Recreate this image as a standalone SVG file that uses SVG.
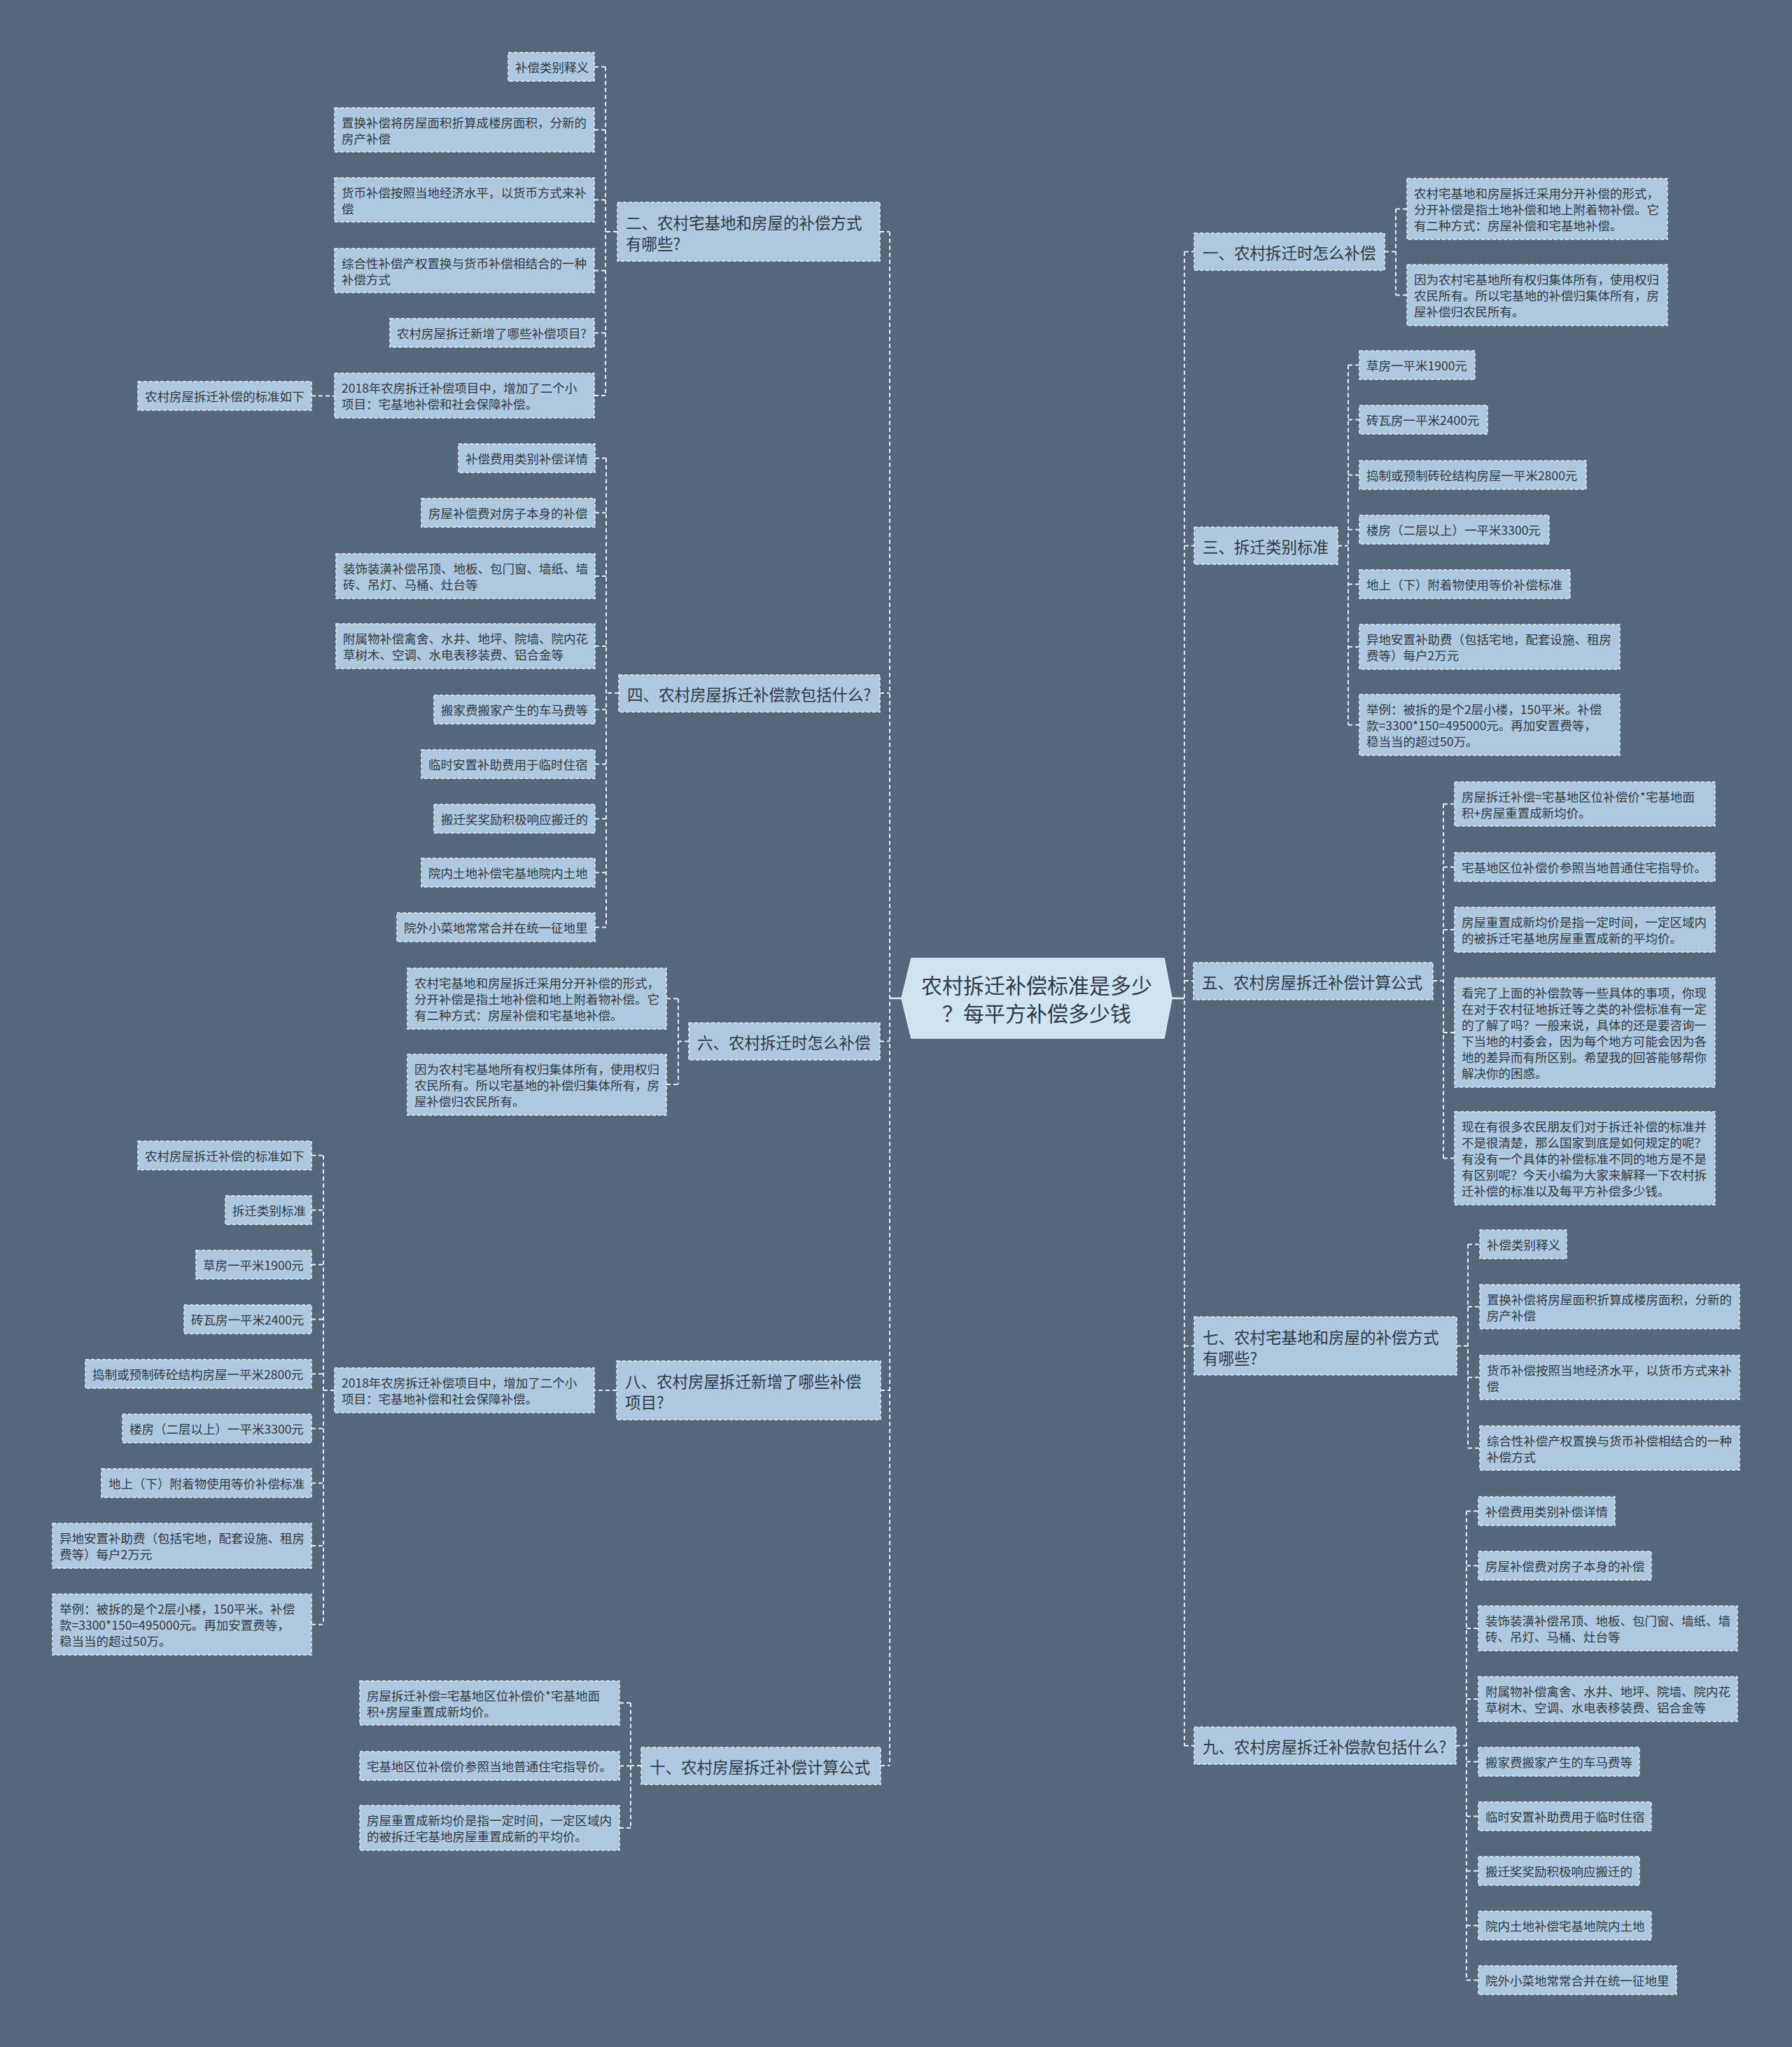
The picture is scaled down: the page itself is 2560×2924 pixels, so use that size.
<svg xmlns="http://www.w3.org/2000/svg" width="2560" height="2924" viewBox="0 0 2560 2924">
<style>
.bg{fill:#53687a}
.box{fill:#adc9df;stroke:#e4edf3;stroke-width:1.5;stroke-dasharray:5 3}
.t{font-family:"Noto Sans CJK SC","Noto Sans",sans-serif;font-size:17.5px;fill:#2e3a44;dominant-baseline:central}
.bt{font-family:"Noto Sans CJK SC","Noto Sans",sans-serif;font-size:22.5px;fill:#2e3a44;dominant-baseline:central}
.ct{font-family:"Noto Sans CJK SC","Noto Sans",sans-serif;font-size:30px;fill:#2e3a44;dominant-baseline:central;text-anchor:middle}
.c{fill:none;stroke:#e4edf3;stroke-width:2;stroke-dasharray:6 4}
.s{fill:none;stroke:#e4edf3;stroke-width:2.5}
</style>
<rect class="bg" x="0" y="0" width="2560" height="2924"/>
<g id="connectors">
<path class="c" d="M1271,331 V2522"/>
<path class="c" d="M1692,359.5 V2493.5"/>
<path class="s" d="M1271,1426 H1290 M1674,1426 H1692"/>
<path class="c" d="M1257,331 H1271 M882,331 H865 M865,95.5 V565 M849,95.5 H865 M849,185.5 H865 M849,285.5 H865 M849,386.5 H865 M849,475.5 H865 M849,565 H865 M445,565.5 H478"/>
<path class="c" d="M1257,990 H1271 M884,990 H866 M866,654.5 V1324.5 M850,654.5 H866 M850,732.5 H866 M850,823 H866 M850,923 H866 M850,1013.5 H866 M850,1091.5 H866 M850,1169.5 H866 M850,1246.5 H866 M850,1324.5 H866"/>
<path class="c" d="M1257,1487.5 H1271 M984,1487.5 H969 M969,1426.5 V1549 M952,1426.5 H969 M952,1549 H969"/>
<path class="c" d="M1258,1986 H1271 M881,1986 H849 M478,1986 H462 M462,1650.5 V2320.5 M445,1650.5 H462 M445,1728.5 H462 M445,1806.5 H462 M445,1884.5 H462 M445,1962.5 H462 M445,2040.5 H462 M445,2118.5 H462 M445,2208 H462 M445,2320.5 H462"/>
<path class="c" d="M1258,2522 H1271 M916,2522 H901 M901,2432.5 V2611 M885,2432.5 H901 M885,2522.5 H901 M885,2611 H901"/>
<path class="c" d="M1692,359.5 H1706 M1978,359.5 H1994 M1994,298.5 V421.5 M1994,298.5 H2010 M1994,421.5 H2010"/>
<path class="c" d="M1692,779.5 H1706 M1911,779.5 H1926 M1926,521.5 V1035.5 M1926,521.5 H1942 M1926,599.5 H1942 M1926,678.5 H1942 M1926,756.5 H1942 M1926,834.5 H1942 M1926,924 H1942 M1926,1035.5 H1942"/>
<path class="c" d="M1692,1401 H1705 M2047,1401 H2062 M2062,1148.5 V1654.5 M2062,1148.5 H2078 M2062,1238.5 H2078 M2062,1328 H2078 M2062,1475 H2078 M2062,1654.5 H2078"/>
<path class="c" d="M1692,1922.5 H1706 M2081,1922.5 H2097 M2097,1777.5 V2068.5 M2097,1777.5 H2114 M2097,1866.5 H2114 M2097,1967.5 H2114 M2097,2068.5 H2114"/>
<path class="c" d="M1692,2493.5 H1706 M2080,2493.5 H2095 M2095,2158.5 V2828.5 M2095,2158.5 H2112 M2095,2236.5 H2112 M2095,2326 H2112 M2095,2427 H2112 M2095,2516.5 H2112 M2095,2594.5 H2112 M2095,2672.5 H2112 M2095,2750.5 H2112 M2095,2828.5 H2112"/>
</g>

<g id="center">
<polygon points="1288,1426 1302,1369 1663,1369 1674,1426 1663,1483 1302,1483" fill="#cfe4f1" stroke="#e4edf3" stroke-width="1.5"/>
<text class="ct" x="1481" y="1406">农村拆迁补偿标准是多少</text>
<text class="ct" x="1481" y="1446">？每平方补偿多少钱</text>
</g>

<g id="b2"><rect class="box" x="882" y="289" width="375" height="84"/><text class="bt" x="894" y="317">二、农村宅基地和房屋的补偿方式</text><text class="bt" x="894" y="347">有哪些?</text></g>
<g id="b2-1"><rect class="box" x="726" y="75" width="123" height="41"/><text class="t" x="736" y="95.5">补偿类别释义</text></g>
<g id="b2-2"><rect class="box" x="478" y="154" width="371" height="63"/><text class="t" x="488" y="174.5">置换补偿将房屋面积折算成楼房面积，分新的</text><text class="t" x="488" y="197.5">房产补偿</text></g>
<g id="b2-3"><rect class="box" x="478" y="254" width="371" height="63"/><text class="t" x="488" y="274.5">货币补偿按照当地经济水平，以货币方式来补</text><text class="t" x="488" y="297.5">偿</text></g>
<g id="b2-4"><rect class="box" x="478" y="355" width="371" height="63"/><text class="t" x="488" y="375.5">综合性补偿产权置换与货币补偿相结合的一种</text><text class="t" x="488" y="398.5">补偿方式</text></g>
<g id="b2-5"><rect class="box" x="557" y="455" width="292" height="41"/><text class="t" x="567" y="475.5">农村房屋拆迁新增了哪些补偿项目?</text></g>
<g id="b2-6"><rect class="box" x="478" y="533" width="371" height="64"/><text class="t" x="488" y="553.5">2018年农房拆迁补偿项目中，增加了二个小</text><text class="t" x="488" y="576.5">项目：宅基地补偿和社会保障补偿。</text></g>
<g id="b2-6-1"><rect class="box" x="197" y="545" width="248" height="41"/><text class="t" x="207" y="565.5">农村房屋拆迁补偿的标准如下</text></g>

<g id="b4"><rect class="box" x="884" y="964" width="373" height="53"/><text class="bt" x="896" y="990.5">四、农村房屋拆迁补偿款包括什么?</text></g>
<g id="b4-1"><rect class="box" x="655" y="634" width="195" height="41"/><text class="t" x="665" y="654.5">补偿费用类别补偿详情</text></g>
<g id="b4-2"><rect class="box" x="602" y="712" width="248" height="41"/><text class="t" x="612" y="732.5">房屋补偿费对房子本身的补偿</text></g>
<g id="b4-3"><rect class="box" x="480" y="791" width="370" height="64"/><text class="t" x="490" y="811.5">装饰装潢补偿吊顶、地板、包门窗、墙纸、墙</text><text class="t" x="490" y="834.5">砖、吊灯、马桶、灶台等</text></g>
<g id="b4-4"><rect class="box" x="480" y="891" width="370" height="64"/><text class="t" x="490" y="911.5">附属物补偿禽舍、水井、地坪、院墙、院内花</text><text class="t" x="490" y="934.5">草树木、空调、水电表移装费、铝合金等</text></g>
<g id="b4-5"><rect class="box" x="620" y="993" width="230" height="41"/><text class="t" x="630" y="1013.5">搬家费搬家产生的车马费等</text></g>
<g id="b4-6"><rect class="box" x="602" y="1071" width="248" height="41"/><text class="t" x="612" y="1091.5">临时安置补助费用于临时住宿</text></g>
<g id="b4-7"><rect class="box" x="620" y="1149" width="230" height="41"/><text class="t" x="630" y="1169.5">搬迁奖奖励积极响应搬迁的</text></g>
<g id="b4-8"><rect class="box" x="602" y="1226" width="248" height="41"/><text class="t" x="612" y="1246.5">院内土地补偿宅基地院内土地</text></g>
<g id="b4-9"><rect class="box" x="567" y="1304" width="283" height="41"/><text class="t" x="577" y="1324.5">院外小菜地常常合并在统一征地里</text></g>

<g id="b6"><rect class="box" x="984" y="1461" width="273" height="53"/><text class="bt" x="996" y="1487.5">六、农村拆迁时怎么补偿</text></g>
<g id="b6-1"><rect class="box" x="582" y="1383" width="370" height="87"/><text class="t" x="592" y="1403.5">农村宅基地和房屋拆迁采用分开补偿的形式，</text><text class="t" x="592" y="1426.5">分开补偿是指土地补偿和地上附着物补偿。它</text><text class="t" x="592" y="1449.5">有二种方式：房屋补偿和宅基地补偿。</text></g>
<g id="b6-2"><rect class="box" x="582" y="1506" width="370" height="87"/><text class="t" x="592" y="1526.5">因为农村宅基地所有权归集体所有，使用权归</text><text class="t" x="592" y="1549.5">农民所有。所以宅基地的补偿归集体所有，房</text><text class="t" x="592" y="1572.5">屋补偿归农民所有。</text></g>

<g id="b8"><rect class="box" x="881" y="1944" width="377" height="84"/><text class="bt" x="893" y="1972">八、农村房屋拆迁新增了哪些补偿</text><text class="bt" x="893" y="2002">项目?</text></g>
<g id="b8-1"><rect class="box" x="478" y="1954" width="371" height="64"/><text class="t" x="488" y="1974.5">2018年农房拆迁补偿项目中，增加了二个小</text><text class="t" x="488" y="1997.5">项目：宅基地补偿和社会保障补偿。</text></g>
<g id="b8-1-1"><rect class="box" x="197" y="1630" width="248" height="41"/><text class="t" x="207" y="1650.5">农村房屋拆迁补偿的标准如下</text></g>
<g id="b8-1-2"><rect class="box" x="322" y="1708" width="123" height="41"/><text class="t" x="332" y="1728.5">拆迁类别标准</text></g>
<g id="b8-1-3"><rect class="box" x="280" y="1786" width="165" height="41"/><text class="t" x="290" y="1806.5">草房一平米1900元</text></g>
<g id="b8-1-4"><rect class="box" x="263" y="1864" width="182" height="41"/><text class="t" x="273" y="1884.5">砖瓦房一平米2400元</text></g>
<g id="b8-1-5"><rect class="box" x="122" y="1942" width="323" height="41"/><text class="t" x="132" y="1962.5">捣制或预制砖砼结构房屋一平米2800元</text></g>
<g id="b8-1-6"><rect class="box" x="175" y="2020" width="270" height="41"/><text class="t" x="185" y="2040.5">楼房（二层以上）一平米3300元</text></g>
<g id="b8-1-7"><rect class="box" x="145" y="2098" width="300" height="41"/><text class="t" x="155" y="2118.5">地上（下）附着物使用等价补偿标准</text></g>
<g id="b8-1-8"><rect class="box" x="75" y="2176" width="370" height="64"/><text class="t" x="85" y="2196.5">异地安置补助费（包括宅地，配套设施、租房</text><text class="t" x="85" y="2219.5">费等）每户2万元</text></g>
<g id="b8-1-9"><rect class="box" x="75" y="2277" width="370" height="87"/><text class="t" x="85" y="2297.5">举例：被拆的是个2层小楼，150平米。补偿</text><text class="t" x="85" y="2320.5">款=3300*150=495000元。再加安置费等，</text><text class="t" x="85" y="2343.5">稳当当的超过50万。</text></g>

<g id="b10"><rect class="box" x="916" y="2496" width="342" height="53"/><text class="bt" x="928" y="2522.5">十、农村房屋拆迁补偿计算公式</text></g>
<g id="b10-1"><rect class="box" x="514" y="2401" width="371" height="63"/><text class="t" x="524" y="2421.5">房屋拆迁补偿=宅基地区位补偿价*宅基地面</text><text class="t" x="524" y="2444.5">积+房屋重置成新均价。</text></g>
<g id="b10-2"><rect class="box" x="514" y="2502" width="371" height="41"/><text class="t" x="524" y="2522.5">宅基地区位补偿价参照当地普通住宅指导价。</text></g>
<g id="b10-3"><rect class="box" x="514" y="2579" width="371" height="64"/><text class="t" x="524" y="2599.5">房屋重置成新均价是指一定时间，一定区域内</text><text class="t" x="524" y="2622.5">的被拆迁宅基地房屋重置成新的平均价。</text></g>

<g id="b1"><rect class="box" x="1706" y="333" width="272" height="53"/><text class="bt" x="1718" y="359.5">一、农村拆迁时怎么补偿</text></g>
<g id="b1-1"><rect class="box" x="2010" y="255" width="372" height="87"/><text class="t" x="2020" y="275.5">农村宅基地和房屋拆迁采用分开补偿的形式，</text><text class="t" x="2020" y="298.5">分开补偿是指土地补偿和地上附着物补偿。它</text><text class="t" x="2020" y="321.5">有二种方式：房屋补偿和宅基地补偿。</text></g>
<g id="b1-2"><rect class="box" x="2010" y="378" width="372" height="87"/><text class="t" x="2020" y="398.5">因为农村宅基地所有权归集体所有，使用权归</text><text class="t" x="2020" y="421.5">农民所有。所以宅基地的补偿归集体所有，房</text><text class="t" x="2020" y="444.5">屋补偿归农民所有。</text></g>

<g id="b3"><rect class="box" x="1706" y="753" width="205" height="53"/><text class="bt" x="1718" y="779.5">三、拆迁类别标准</text></g>
<g id="b3-1"><rect class="box" x="1942" y="501" width="165" height="41"/><text class="t" x="1952" y="521.5">草房一平米1900元</text></g>
<g id="b3-2"><rect class="box" x="1942" y="579" width="183" height="41"/><text class="t" x="1952" y="599.5">砖瓦房一平米2400元</text></g>
<g id="b3-3"><rect class="box" x="1942" y="658" width="324" height="41"/><text class="t" x="1952" y="678.5">捣制或预制砖砼结构房屋一平米2800元</text></g>
<g id="b3-4"><rect class="box" x="1942" y="736" width="271" height="41"/><text class="t" x="1952" y="756.5">楼房（二层以上）一平米3300元</text></g>
<g id="b3-5"><rect class="box" x="1942" y="814" width="301" height="41"/><text class="t" x="1952" y="834.5">地上（下）附着物使用等价补偿标准</text></g>
<g id="b3-6"><rect class="box" x="1942" y="892" width="372" height="64"/><text class="t" x="1952" y="912.5">异地安置补助费（包括宅地，配套设施、租房</text><text class="t" x="1952" y="935.5">费等）每户2万元</text></g>
<g id="b3-7"><rect class="box" x="1942" y="992" width="372" height="87"/><text class="t" x="1952" y="1012.5">举例：被拆的是个2层小楼，150平米。补偿</text><text class="t" x="1952" y="1035.5">款=3300*150=495000元。再加安置费等，</text><text class="t" x="1952" y="1058.5">稳当当的超过50万。</text></g>

<g id="b5"><rect class="box" x="1705" y="1375" width="342" height="53"/><text class="bt" x="1717" y="1401.5">五、农村房屋拆迁补偿计算公式</text></g>
<g id="b5-1"><rect class="box" x="2078" y="1117" width="372" height="63"/><text class="t" x="2088" y="1137.5">房屋拆迁补偿=宅基地区位补偿价*宅基地面</text><text class="t" x="2088" y="1160.5">积+房屋重置成新均价。</text></g>
<g id="b5-2"><rect class="box" x="2078" y="1218" width="372" height="41"/><text class="t" x="2088" y="1238.5">宅基地区位补偿价参照当地普通住宅指导价。</text></g>
<g id="b5-3"><rect class="box" x="2078" y="1296" width="372" height="64"/><text class="t" x="2088" y="1316.5">房屋重置成新均价是指一定时间，一定区域内</text><text class="t" x="2088" y="1339.5">的被拆迁宅基地房屋重置成新的平均价。</text></g>
<g id="b5-4"><rect class="box" x="2078" y="1397" width="372" height="156"/><text class="t" x="2088" y="1417.5">看完了上面的补偿款等一些具体的事项，你现</text><text class="t" x="2088" y="1440.5">在对于农村征地拆迁等之类的补偿标准有一定</text><text class="t" x="2088" y="1463.5">的了解了吗？一般来说，具体的还是要咨询一</text><text class="t" x="2088" y="1486.5">下当地的村委会，因为每个地方可能会因为各</text><text class="t" x="2088" y="1509.5">地的差异而有所区别。希望我的回答能够帮你</text><text class="t" x="2088" y="1532.5">解决你的困惑。</text></g>
<g id="b5-5"><rect class="box" x="2078" y="1588" width="372" height="133"/><text class="t" x="2088" y="1608.5">现在有很多农民朋友们对于拆迁补偿的标准并</text><text class="t" x="2088" y="1631.5">不是很清楚，那么国家到底是如何规定的呢？</text><text class="t" x="2088" y="1654.5">有没有一个具体的补偿标准不同的地方是不是</text><text class="t" x="2088" y="1677.5">有区别呢？今天小编为大家来解释一下农村拆</text><text class="t" x="2088" y="1700.5">迁补偿的标准以及每平方补偿多少钱。</text></g>

<g id="b7"><rect class="box" x="1706" y="1881" width="375" height="83"/><text class="bt" x="1718" y="1908.5">七、农村宅基地和房屋的补偿方式</text><text class="bt" x="1718" y="1938.5">有哪些?</text></g>
<g id="b7-1"><rect class="box" x="2114" y="1757" width="124" height="41"/><text class="t" x="2124" y="1777.5">补偿类别释义</text></g>
<g id="b7-2"><rect class="box" x="2114" y="1835" width="371" height="63"/><text class="t" x="2124" y="1855.5">置换补偿将房屋面积折算成楼房面积，分新的</text><text class="t" x="2124" y="1878.5">房产补偿</text></g>
<g id="b7-3"><rect class="box" x="2114" y="1936" width="371" height="63"/><text class="t" x="2124" y="1956.5">货币补偿按照当地经济水平，以货币方式来补</text><text class="t" x="2124" y="1979.5">偿</text></g>
<g id="b7-4"><rect class="box" x="2114" y="2037" width="371" height="63"/><text class="t" x="2124" y="2057.5">综合性补偿产权置换与货币补偿相结合的一种</text><text class="t" x="2124" y="2080.5">补偿方式</text></g>

<g id="b9"><rect class="box" x="1706" y="2467" width="374" height="53"/><text class="bt" x="1718" y="2493.5">九、农村房屋拆迁补偿款包括什么?</text></g>
<g id="b9-1"><rect class="box" x="2112" y="2138" width="195" height="41"/><text class="t" x="2122" y="2158.5">补偿费用类别补偿详情</text></g>
<g id="b9-2"><rect class="box" x="2112" y="2216" width="247" height="41"/><text class="t" x="2122" y="2236.5">房屋补偿费对房子本身的补偿</text></g>
<g id="b9-3"><rect class="box" x="2112" y="2294" width="370" height="64"/><text class="t" x="2122" y="2314.5">装饰装潢补偿吊顶、地板、包门窗、墙纸、墙</text><text class="t" x="2122" y="2337.5">砖、吊灯、马桶、灶台等</text></g>
<g id="b9-4"><rect class="box" x="2112" y="2395" width="370" height="64"/><text class="t" x="2122" y="2415.5">附属物补偿禽舍、水井、地坪、院墙、院内花</text><text class="t" x="2122" y="2438.5">草树木、空调、水电表移装费、铝合金等</text></g>
<g id="b9-5"><rect class="box" x="2112" y="2496" width="230" height="41"/><text class="t" x="2122" y="2516.5">搬家费搬家产生的车马费等</text></g>
<g id="b9-6"><rect class="box" x="2112" y="2574" width="247" height="41"/><text class="t" x="2122" y="2594.5">临时安置补助费用于临时住宿</text></g>
<g id="b9-7"><rect class="box" x="2112" y="2652" width="230" height="41"/><text class="t" x="2122" y="2672.5">搬迁奖奖励积极响应搬迁的</text></g>
<g id="b9-8"><rect class="box" x="2112" y="2730" width="247" height="41"/><text class="t" x="2122" y="2750.5">院内土地补偿宅基地院内土地</text></g>
<g id="b9-9"><rect class="box" x="2112" y="2808" width="283" height="41"/><text class="t" x="2122" y="2828.5">院外小菜地常常合并在统一征地里</text></g>
</svg>
